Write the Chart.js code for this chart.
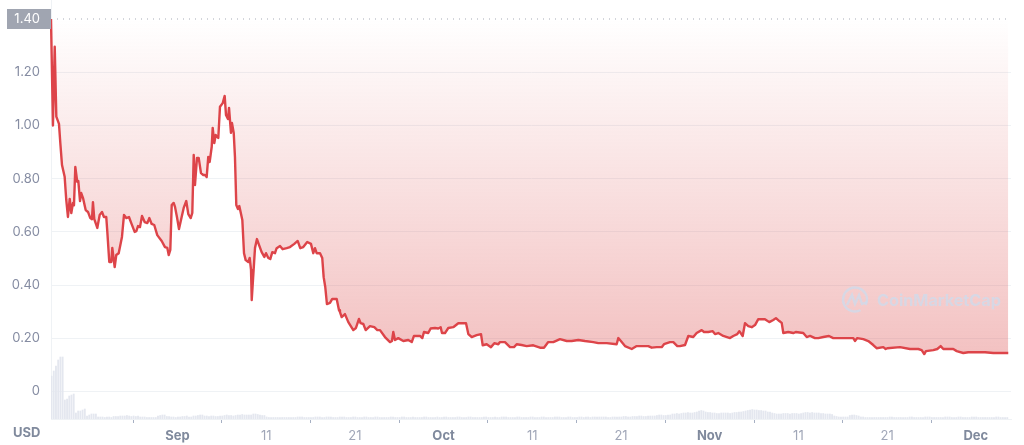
<!DOCTYPE html>
<html>
<head>
<meta charset="utf-8">
<style>
  html, body { margin: 0; padding: 0; background: #fff; }
  canvas { display: block; }
</style>
<script src="https://cdn.jsdelivr.net/npm/chart.js@4/dist/chart.umd.min.js"></script>
</head>
<body>
<canvas id="chart" width="1024" height="445"></canvas>
<script>
// days counted from 1 Sep
const priceDays = [
  -14.26,-14.04,-13.84,-13.66,-13.36,-13.21,-13.02,-12.72,-12.54,-12.35,-12.15,-11.97,-11.78,-11.67,-11.52,-11.30,-11.18,-10.99,-10.85,-10.65,
  -10.35,-10.09,-9.83,-9.64,-9.53,-9.38,-9.04,-8.77,-8.51,-8.29,-8.03,-7.91,-7.69,-7.46,-7.35,-7.08,-6.90,-6.63,-6.26,-6.03,
  -5.77,-5.47,-5.21,-4.83,-4.64,-4.45,-4.23,-4.00,-3.70,-3.40,-3.18,-2.91,-2.62,-2.28,-1.78,-1.41,-1.15,-0.99,-0.81,-0.65,
  -0.43,-0.28,-0.06,0.17,0.47,0.70,0.99,1.22,1.49,1.67,1.83,1.97,2.20,2.39,2.65,2.91,3.10,3.29,3.47,3.63,
  3.86,3.97,4.15,4.31,4.60,4.79,5.10,5.32,5.47,5.69,5.81,6.03,6.14,6.34,6.48,6.63,6.82,6.97,7.31,7.50,
  7.69,7.98,8.14,8.29,8.37,8.51,8.74,8.96,9.19,9.49,9.79,9.98,10.24,10.46,10.69,10.99,11.18,11.56,11.86,12.31,
  12.68,13.17,13.55,13.84,14.18,14.63,15.05,15.31,15.50,15.69,16.07,16.32,16.48,16.66,16.85,17.19,17.45,17.95,18.21,18.32,
  18.51,18.88,19.26,19.82,20.12,20.46,20.65,20.95,21.22,21.70,22.19,22.53,22.83,23.39,23.96,24.18,24.33,24.52,24.89,25.46,
  26.02,26.41,26.66,27.34,27.60,27.79,28.27,28.54,29.03,29.40,29.67,29.82,30.16,30.53,31.09,31.66,32.22,32.53,32.79,33.17,
  33.73,34.22,34.41,34.86,35.34,35.72,36.17,36.36,36.92,37.49,37.94,38.24,38.80,39.37,40.11,40.87,41.32,41.80,42.37,43.12,
  43.88,44.44,45.19,45.94,46.88,47.44,48.39,49.51,49.70,50.08,50.45,51.21,51.77,52.52,53.08,53.46,54.03,54.59,54.85,55.52,
  55.90,56.35,56.65,57.22,57.59,58.15,58.53,59.10,59.36,59.84,60.34,60.60,60.97,61.53,62.29,62.66,63.11,63.34,63.72,63.98,
  64.35,64.74,65.11,65.48,66.23,66.72,67.17,67.47,67.85,68.12,68.30,68.86,69.43,69.70,70.55,70.94,71.31,71.87,72.25,72.81,
  73.45,73.93,74.69,75.44,76.19,76.38,76.64,77.32,77.88,78.44,78.82,79.57,79.84,80.02,81.45,82.58,83.52,83.90,84.19,84.38,
  85.21,85.66,86.04,86.34,87.46,87.85,88.59,89.15,90.10,91.04,91.98,93.66
];
const priceValues = [
  1.40,1.00,1.296,1.033,1.006,0.934,0.851,0.807,0.72,0.656,0.724,0.671,0.709,0.70,0.844,0.788,0.791,0.716,0.746,0.727,
  0.682,0.675,0.652,0.648,0.712,0.648,0.615,0.664,0.675,0.656,0.656,0.60,0.487,0.487,0.54,0.468,0.513,0.52,0.581,0.664,
  0.652,0.656,0.633,0.60,0.603,0.622,0.618,0.66,0.637,0.633,0.652,0.63,0.626,0.588,0.566,0.543,0.54,0.513,0.532,0.701,
  0.709,0.694,0.656,0.611,0.656,0.69,0.716,0.667,0.652,0.671,0.889,0.776,0.878,0.878,0.821,0.814,0.814,0.806,0.882,0.863,
  0.92,0.991,0.934,0.964,0.953,1.07,1.084,1.111,1.039,1.024,1.066,0.972,1.009,0.972,0.882,0.701,0.686,0.697,0.645,0.52,
  0.494,0.487,0.502,0.457,0.344,0.419,0.54,0.573,0.551,0.524,0.506,0.52,0.502,0.498,0.524,0.52,0.539,0.547,0.535,0.539,
  0.543,0.555,0.566,0.539,0.543,0.562,0.555,0.52,0.539,0.52,0.52,0.502,0.43,0.393,0.329,0.333,0.348,0.348,0.306,0.299,
  0.28,0.291,0.261,0.231,0.239,0.273,0.257,0.254,0.231,0.246,0.242,0.231,0.231,0.205,0.186,0.19,0.224,0.194,0.201,0.19,
  0.194,0.186,0.209,0.209,0.201,0.224,0.22,0.237,0.239,0.237,0.242,0.22,0.22,0.239,0.242,0.257,0.257,0.257,0.216,0.205,
  0.212,0.216,0.174,0.178,0.167,0.182,0.178,0.186,0.186,0.167,0.167,0.178,0.175,0.171,0.174,0.165,0.165,0.186,0.186,0.197,
  0.19,0.19,0.194,0.19,0.186,0.182,0.182,0.178,0.201,0.186,0.171,0.16,0.171,0.171,0.171,0.165,0.167,0.167,0.178,0.186,
  0.186,0.171,0.171,0.175,0.209,0.205,0.22,0.231,0.224,0.224,0.227,0.216,0.22,0.209,0.201,0.209,0.216,0.227,0.209,0.257,
  0.246,0.242,0.25,0.272,0.272,0.261,0.269,0.276,0.265,0.258,0.22,0.224,0.22,0.224,0.22,0.205,0.209,0.201,0.201,0.205,
  0.209,0.201,0.201,0.201,0.201,0.19,0.201,0.197,0.19,0.175,0.163,0.167,0.16,0.163,0.167,0.16,0.16,0.156,0.141,0.152,
  0.156,0.16,0.171,0.16,0.16,0.152,0.145,0.148,0.148,0.148,0.145,0.145
];
// volume, one bar every 6 hours
const firstVolumeDay = -14.2;
const volumeValues = [
  43,48,53,59,62,62,19,20, 23,24,25,6,8,8,9,10,
  3,4,5,5,5,2,2,2, 1.5,2,2,1.5,2.5,2.5,2.5,3,
  3,3,3.5,3,2.5,3,2.5,3, 2,2,2,1.5,1.5,1.5,1.5,1.5,
  3,3.5,4,4,2.5,2.5,2,2, 1.5,2,2,2.5,2.5,3,2,2,
  3,3,3.5,4,4,3,3,2.5, 3,3,2.5,2.5,3,3,3.5,4,
  3.5,3.5,3,3.5,4,4,4.5,4, 4,4,4,5,5,4.5,4,3.5,
  3.5,2,1.5,1.5,1.5,1.5,1.5,1.5, 1.5,1.5,1.5,1.5,1.5,1.5,1.5,2,
  2,2,1.5,1.5,1.5,1.5,1.5,2, 2,2,1.5,1.5,2,2,2,1.5,
  1.5,1.5,2,2,2,1.5,1.5,1.5, 2,2,1.5,1.5,1.5,2,2,1.5,
  1.5,1.5,2,2,1.5,1.5,1.5,1.5, 1.5,2,2,1.5,1.5,1.5,2,2,
  1.5,1.5,1.5,2,1.5,1.5,1.5,1.5, 2,2,1.5,1.5,1.5,1.5,2,1.5,
  1.5,2,2,1.5,1.5,1.5,1.5,2, 2,1.5,1.5,1.5,2,2,1.5,1.5,
  1.5,1.5,1.5,2,2,1.5,1.5,1.5, 2,1.5,1.5,2,2,2,1.5,1.5,
  1.5,1.5,2,2,1.5,1.5,1.5,1.5, 2,2,1.5,1.5,1.5,2,2,1.5,
  1.5,1.5,1.5,2,2,2,1.5,1.5, 1.5,2,2,1.5,1.5,1.5,2,2,
  1.5,2,2,1.5,2,2,2,2,
  2,2,2,1.5,1.5,2,2,2, 2,2,2.5,2.5,2,2,2.5,2.5,
  2.5,3,3,2.5,2.5,3,3,3, 3,3.5,4,4,3.5,3.5,4,4,
  5,5,5.5,5,5.5,6,6,6.5, 6,6,6.5,7,8,8.5,8,7,
  6.5,6.5,6,6,5.5,5.5,6,6, 6,6,5.5,6,6.5,6.5,7,7,
  7.5,8,8.5,9,9.5,9,9,8.5, 8.5,8,8,7,7,6,5.5,5,
  5,5,5.5,5.5,5.5,5,5.5,5.5, 5.5,5,5.5,6,6.5,6.5,6,6.5,
  6,6,6,5.5,5.5,5,5,5, 4.5,3,2.5,2,2,2,2,2,
  3.5,4,4,3.5,3,2,2,1.5, 1.5,1.5,1.5,1.5,1.5,1.5,1.5,1.5,
  1.5,1.5,2,2,1.5,1.5,1.5,1.5, 1.5,1.5,1.5,2,2,1.5,1.5,1.5,
  1.5,1.5,2,2,2,1.5,1.5,1.5, 1.5,1.5,1.5,2,2,2,1.5,1.5,
  1.5,2,2,1.5,1.5,1.5,1.5,2, 2,2,1.5,1.5,1.5,1.5,1.5,1.5,
  1.5,1.5,2,2,1.5,1.5,1.5,1.5
];
const yTicks = [0, 0.2, 0.4, 0.6, 0.8, 1.0, 1.2];
const xTickDays = [0, 10, 20, 30, 40, 50, 60, 70, 80, 90];
const xTickLabels = ['Sep', '11', '21', 'Oct', '11', '21', 'Nov', '11', '21', 'Dec'];
const monthLabels = ['Sep', 'Oct', 'Nov', 'Dec'];
const currency = 'USD';
const watermark = 'CoinMarketCap';

const fontName = 'Inter, "Noto Sans", sans-serif';
const dayMin = -14.26;
const dayMax = 93.97;

function isMonth(c) {
    return !!c.tick && monthLabels.includes(c.tick.label);
}

function priceFill(context) {
    const { ctx, chartArea } = context.chart;
    if (!chartArea) return 'rgba(222,88,88,0.2)';
    const g = ctx.createLinearGradient(0, chartArea.top, 0, chartArea.bottom);
    g.addColorStop(0, 'rgba(222,88,88,0)');
    g.addColorStop(1, 'rgba(222,88,88,0.44)');
    return g;
}

// grey price tag, USD label and the watermark
const extras = {
    id: 'extras',
    afterDraw(chart) {
        const { ctx, scales, chartArea } = chart;
        const y = scales.y.getPixelForValue(priceValues[0]);
        ctx.save();
        // the axis line carries on above the plot
        ctx.strokeStyle = '#eff2f5';
        ctx.lineWidth = 1;
        ctx.beginPath();
        ctx.moveTo(chartArea.left + 0.5, 0);
        ctx.lineTo(chartArea.left + 0.5, chartArea.top);
        ctx.stroke();

        ctx.fillStyle = '#a0a5b1';
        ctx.fillRect(7, y - 10, 44, 20);
        ctx.fillStyle = '#ffffff';
        ctx.font = '13px ' + fontName;
        ctx.textAlign = 'right';
        ctx.textBaseline = 'middle';
        ctx.fillText(priceValues[0].toFixed(2), 40, y);

        ctx.fillStyle = '#808a9d';
        ctx.font = '700 13px ' + fontName;
        ctx.textAlign = 'left';
        ctx.fillText(currency, 13, 433);

        ctx.strokeStyle = 'rgba(207,219,235,0.8)';
        ctx.fillStyle = 'rgba(207,219,235,0.8)';
        ctx.lineWidth = 2.4;
        ctx.beginPath();
        ctx.arc(855, 299.5, 12, 0.35 * Math.PI, 2.15 * Math.PI);
        ctx.stroke();
        ctx.beginPath();
        ctx.moveTo(847, 305);
        ctx.lineTo(852, 295);
        ctx.lineTo(855, 304);
        ctx.lineTo(859, 295);
        ctx.lineTo(862, 304);
        ctx.lineTo(867, 302);
        ctx.stroke();
        ctx.font = '700 16.2px ' + fontName;
        ctx.fillText(watermark, 877, 301);
        ctx.restore();
    }
};

new Chart(document.getElementById('chart'), {
    type: 'bar',
    data: {
        datasets: [
            {
                type: 'line',
                data: priceDays.map((d, i) => ({ x: d, y: priceValues[i] })),
                borderColor: '#dd4449',
                borderWidth: 2.4,
                borderJoinStyle: 'round',
                pointRadius: 0,
                tension: 0,
                clip: false,
                fill: 'end',
                backgroundColor: priceFill,
                order: 1
            },
            {
                type: 'line',
                data: [{ x: dayMin, y: priceValues[0] }, { x: dayMax, y: priceValues[0] }],
                borderColor: '#a6abb6',
                borderWidth: 1,
                borderDash: [1, 5],
                pointRadius: 0,
                clip: false,
                fill: false,
                order: 2
            },
            {
                type: 'bar',
                data: volumeValues.map((v, i) => ({ x: firstVolumeDay + i / 4, y: v })),
                yAxisID: 'yVolume',
                backgroundColor: '#e4e7ef',
                barThickness: 1.2,
                order: 3
            }
        ]
    },
    options: {
        responsive: false,
        animation: false,
        layout: { padding: { left: 0, right: 13, top: 19, bottom: 0 } },
        plugins: { legend: { display: false }, tooltip: { enabled: false } },
        scales: {
            x: {
                type: 'linear',
                offset: false,
                min: dayMin,
                max: dayMax,
                afterBuildTicks: axis => { axis.ticks = xTickDays.map(v => ({ value: v })); },
                afterFit: axis => { axis.height = 26; },
                grid: { drawOnChartArea: false, tickLength: 4, tickColor: '#a6b0c3' },
                border: { color: '#eff2f5' },
                ticks: {
                    autoSkip: false,
                    maxRotation: 0,
                    padding: 5,
                    callback: value => xTickLabels[xTickDays.indexOf(value)],
                    color: c => isMonth(c) ? '#808a9d' : '#a1a7b8',
                    font: c => ({
                        family: fontName,
                        size: 13,
                        weight: isMonth(c) ? '700' : '400'
                    })
                }
            },
            y: {
                min: -0.103,
                max: 1.40,
                afterBuildTicks: axis => { axis.ticks = yTicks.map(v => ({ value: v })); },
                afterFit: axis => { axis.width = 51; },
                grid: { color: '#eff2f5', drawTicks: false },
                border: { color: '#eff2f5' },
                ticks: {
                    padding: 11,
                    color: '#858ca2',
                    font: { family: fontName, size: 13 },
                    callback: value => value === 0 ? '0' : value.toFixed(2)
                }
            },
            yVolume: { display: false, min: 0, max: 400 }
        }
    },
    plugins: [extras]
});
</script>
</body>
</html>
